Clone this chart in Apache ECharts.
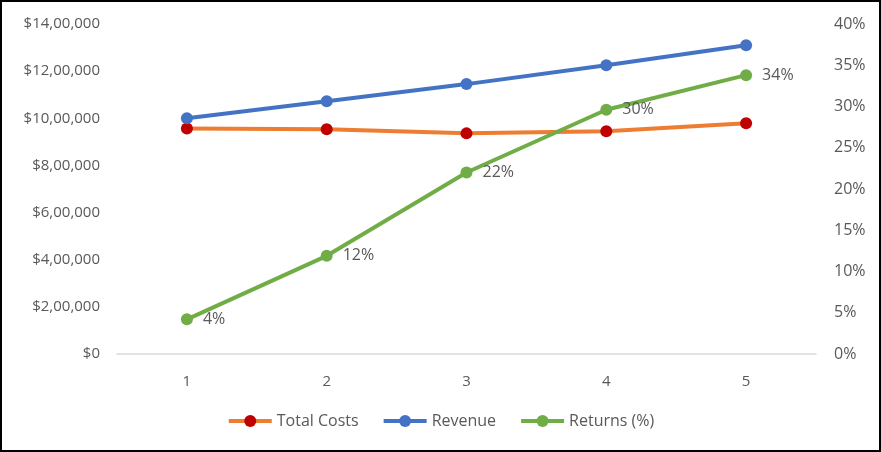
<!DOCTYPE html>
<html><head><meta charset="utf-8">
<script src="https://cdn.jsdelivr.net/npm/echarts@6/dist/echarts.min.js"></script>
<style>
html,body{margin:0;padding:0;background:#fff;}
#frame{width:881px;height:452px;box-sizing:border-box;border:2px solid #000;position:relative;}
#c{position:absolute;left:-2px;top:-2px;width:881px;height:452px;}
</style></head>
<body><div id="frame"><div id="c"></div></div>
<script>
const categories = ['1','2','3','4','5'];
const totalCosts = [957000, 953000, 936000, 945000, 979000];
const revenue = [1000000, 1072000, 1145000, 1225000, 1310000];
const returnsPct = [4.2, 11.9, 22.0, 29.6, 33.8];

const font = '"Open Sans", "Noto Sans", sans-serif';
const txt = '#595959';
function inr(v){
  if (v === 0) return '$0';
  const s = String(v);
  const last3 = s.slice(-3);
  let rest = s.slice(0, -3);
  const parts = [];
  while (rest.length > 2) { parts.unshift(rest.slice(-2)); rest = rest.slice(0, -2); }
  if (rest.length) parts.unshift(rest);
  return '$' + parts.join(',') + ',' + last3;
}
const chart = echarts.init(document.getElementById('c'), null, {renderer:'canvas'});
chart.setOption({
  animation:false,
  textStyle:{fontFamily:font},
  grid:{left:117,right:65,top:24,bottom:98,containLabel:false},
  legend:{
    bottom:18,left:'center',itemWidth:43,itemHeight:15,itemGap:23,
    lineStyle:{width:4},
    textStyle:{color:txt,fontSize:16,fontFamily:font},
    data:['Total Costs','Revenue','Returns (%)']
  },
  xAxis:{
    type:'category',data:categories,boundaryGap:true,
    axisLine:{lineStyle:{color:'#d9d9d9',width:1.5}},
    axisTick:{show:false},
    axisLabel:{color:txt,fontSize:15,margin:20,fontFamily:font}
  },
  yAxis:[
    {type:'value',min:0,max:1400000,interval:200000,
     splitLine:{show:false},axisLine:{show:false},axisTick:{show:false},
     axisLabel:{color:txt,fontSize:15,margin:17,formatter:inr,fontFamily:font}},
    {type:'value',min:0,max:40,interval:5,
     splitLine:{show:false},axisLine:{show:false},axisTick:{show:false},
     axisLabel:{color:txt,fontSize:16,margin:18,formatter:v=>v+'%',fontFamily:font}}
  ],
  series:[
    {name:'Total Costs',type:'line',data:totalCosts,yAxisIndex:0,
     symbol:'circle',symbolSize:12,
     lineStyle:{color:'#ED7D31',width:4},
     itemStyle:{color:'#C00000'}},
    {name:'Revenue',type:'line',data:revenue,yAxisIndex:0,
     symbol:'circle',symbolSize:12,
     lineStyle:{color:'#4472C4',width:4},
     itemStyle:{color:'#4472C4'}},
    {name:'Returns (%)',type:'line',data:returnsPct,yAxisIndex:1,
     symbol:'circle',symbolSize:12,
     lineStyle:{color:'#70AD47',width:4},
     itemStyle:{color:'#70AD47'},
     label:{show:true,position:'right',distance:10,color:txt,fontSize:16,fontFamily:font,
       formatter:p=>Math.round(p.value)+'%'}}
  ]
});
</script></body></html>
